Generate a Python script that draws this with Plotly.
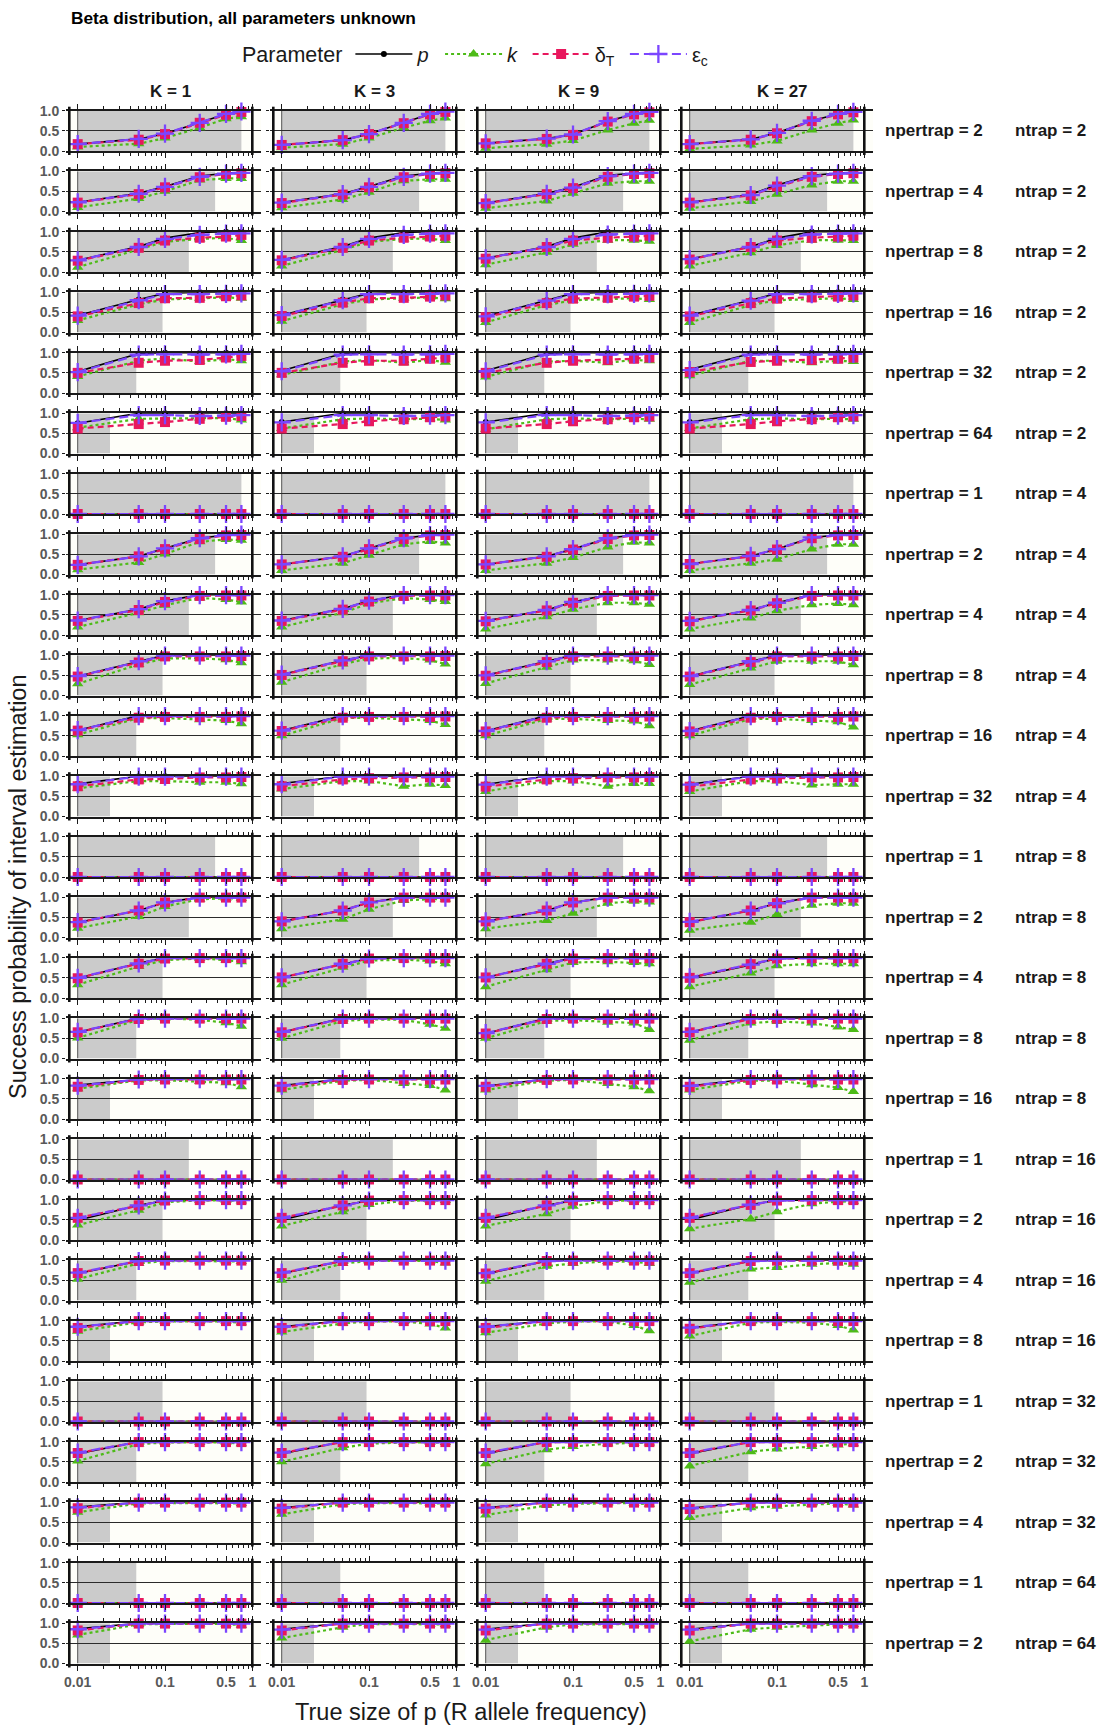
import plotly.graph_objects as go

# ---------------- data ----------------
X_P = [0.01, 0.05, 0.1, 0.25, 0.5, 0.75]
K_LABELS = ["K = 1", "K = 3", "K = 9", "K = 27"]
NPERTRAP = [2, 4, 8, 16, 32, 64, 1, 2, 4, 8, 16, 32, 1, 2, 4, 8, 16, 1, 2, 4, 8, 1, 2, 4, 1, 2]
NTRAP = [2, 2, 2, 2, 2, 2, 4, 4, 4, 4, 4, 4, 8, 8, 8, 8, 8, 16, 16, 16, 16, 32, 32, 32, 64, 64]
SHADE_END = [0.75, 0.375, 0.1875, 0.09375, 0.046875, 0.0234375,
             0.75, 0.375, 0.1875, 0.09375, 0.046875, 0.0234375,
             0.375, 0.1875, 0.09375, 0.046875, 0.0234375,
             0.1875, 0.09375, 0.046875, 0.0234375,
             0.09375, 0.046875, 0.0234375,
             0.046875, 0.0234375]
X_TICKS = [0.01, 0.1, 0.5, 1]
X_TICKTEXT = ["0.01", "0.1", "0.5", "1"]
X_MINOR = [0.02, 0.03, 0.04, 0.05, 0.06, 0.07, 0.08, 0.09,
           0.2, 0.3, 0.4, 0.6, 0.7, 0.8, 0.9]
Y_TICKS = [0, 0.5, 1]
Y_TICKTEXT = ["0.0", "0.5", "1.0"]

ZROW = [[0, 0, 0, 0, 0, 0], [0, 0, 0, 0, 0, 0], [0, 0, 0, 0, 0, 0], [0, 0, 0, 0, 0, 0]]

# values[row][col] = 6 values along X_P
P_VALS = [
    [[.17, .30, .43, .70, .92, .98], [.15, .27, .42, .70, .92, .98], [.19, .31, .41, .74, .92, .97], [.17, .29, .45, .75, .92, .97]],
    [[.23, .45, .62, .88, .95, .97], [.22, .44, .62, .88, .95, .97], [.21, .45, .60, .90, .95, .97], [.23, .42, .66, .90, .95, .97]],
    [[.29, .63, .84, .98, 1, 1], [.30, .63, .84, .98, 1, 1], [.34, .63, .84, 1, 1, 1], [.32, .63, .84, 1, 1, 1]],
    [[.42, .82, .97, 1, 1, 1], [.43, .82, .97, 1, 1, 1], [.40, .80, .97, 1, 1, 1], [.42, .80, .97, 1, 1, 1]],
    [[.53, .98, 1, 1, 1, 1], [.55, .98, 1, 1, 1, 1], [.55, .98, 1, 1, 1, 1], [.58, .98, 1, 1, 1, 1]],
    [[.75, 1, 1, 1, 1, 1], [.78, 1, 1, 1, 1, 1], [.78, 1, 1, 1, 1, 1], [.78, 1, 1, 1, 1, 1]],
    ZROW,
    [[.24, .45, .65, .90, .98, .99], [.25, .45, .65, .90, .98, .99], [.25, .45, .63, .90, .98, .99], [.26, .46, .63, .92, .98, .99]],
    [[.36, .64, .84, 1, 1, 1], [.36, .65, .85, 1, 1, 1], [.35, .62, .82, 1, 1, 1], [.35, .62, .80, 1, 1, 1]],
    [[.48, .85, 1, 1, 1, 1], [.52, .87, 1, 1, 1, 1], [.50, .85, 1, 1, 1, 1], [.48, .85, 1, 1, 1, 1]],
    [[.64, 1, 1, 1, 1, 1], [.63, 1, 1, 1, 1, 1], [.62, 1, 1, 1, 1, 1], [.62, 1, 1, 1, 1, 1]],
    [[.81, 1, 1, 1, 1, 1], [.82, 1, 1, 1, 1, 1], [.80, 1, 1, 1, 1, 1], [.80, 1, 1, 1, 1, 1]],
    ZROW,
    [[.37, .67, .87, 1, 1, 1], [.40, .67, .87, 1, 1, 1], [.40, .67, .87, 1, 1, 1], [.38, .67, .85, 1, 1, 1]],
    [[.49, .86, 1, 1, 1, 1], [.51, .85, .98, 1, 1, 1], [.51, .85, 1, 1, 1, 1], [.50, .82, .98, 1, 1, 1]],
    [[.65, 1, 1, 1, 1, 1], [.65, 1, 1, 1, 1, 1], [.62, 1, 1, 1, 1, 1], [.65, 1, 1, 1, 1, 1]],
    [[.84, .98, 1, 1, 1, 1], [.83, .99, 1, 1, 1, 1], [.82, .99, 1, 1, 1, 1], [.82, 1, 1, 1, 1, 1]],
    ZROW,
    [[.49, .86, .98, 1, 1, 1], [.50, .86, .98, 1, 1, 1], [.50, .86, .98, 1, 1, 1], [.50, .88, .98, 1, 1, 1]],
    [[.67, .98, 1, 1, 1, 1], [.67, .98, 1, 1, 1, 1], [.66, .98, 1, 1, 1, 1], [.67, .98, 1, 1, 1, 1]],
    [[.85, 1, 1, 1, 1, 1], [.85, 1, 1, 1, 1, 1], [.85, 1, 1, 1, 1, 1], [.82, 1, 1, 1, 1, 1]],
    ZROW,
    [[.70, 1, 1, 1, 1, 1], [.70, 1, 1, 1, 1, 1], [.70, 1, 1, 1, 1, 1], [.70, 1, 1, 1, 1, 1]],
    [[.88, 1, 1, 1, 1, 1], [.86, 1, 1, 1, 1, 1], [.86, 1, 1, 1, 1, 1], [.85, 1, 1, 1, 1, 1]],
    ZROW,
    [[.86, 1, 1, 1, 1, 1], [.85, 1, 1, 1, 1, 1], [.85, 1, 1, 1, 1, 1], [.85, 1, 1, 1, 1, 1]],
]

K_VALS = [
    [[.10, .18, .32, .58, .80, .85], [.08, .17, .32, .58, .75, .82], [.07, .17, .26, .52, .69, .76], [.05, .15, .25, .52, .69, .77]],
    [[.10, .32, .50, .78, .82, .82], [.09, .30, .48, .76, .80, .80], [.08, .26, .45, .70, .75, .75], [.08, .25, .43, .66, .75, .75]],
    [[.12, .57, .75, .82, .85, .78], [.15, .55, .75, .82, .83, .78], [.18, .49, .69, .79, .79, .76], [.15, .48, .66, .79, .79, .78]],
    [[.30, .70, .82, .85, .87, .85], [.28, .70, .82, .85, .87, .84], [.25, .68, .80, .83, .85, .82], [.25, .68, .80, .83, .85, .82]],
    [[.41, .80, .86, .78, .84, .80], [.45, .78, .82, .75, .82, .76], [.40, .78, .80, .75, .82, .80], [.43, .80, .80, .75, .80, .78]],
    [[.64, .86, .87, .88, .88, .83], [.62, .85, .87, .85, .86, .83], [.60, .85, .87, .85, .86, .85], [.62, .85, .87, .85, .86, .85]],
    ZROW,
    [[.12, .30, .51, .81, .87, .85], [.10, .28, .48, .75, .82, .78], [.10, .28, .42, .68, .80, .78], [.10, .28, .38, .63, .75, .75]],
    [[.20, .55, .74, .92, .88, .82], [.20, .55, .78, .92, .88, .83], [.15, .45, .64, .80, .80, .76], [.15, .42, .60, .75, .78, .75]],
    [[.29, .77, .92, .92, .89, .81], [.33, .78, .92, .93, .88, .78], [.30, .70, .88, .88, .86, .77], [.27, .68, .85, .85, .85, .76]],
    [[.53, .94, .94, .90, .88, .80], [.50, .94, .95, .92, .88, .78], [.50, .92, .92, .88, .87, .75], [.50, .92, .92, .88, .85, .72]],
    [[.70, .88, .88, .85, .85, .81], [.68, .88, .88, .75, .80, .77], [.62, .88, .88, .75, .82, .82], [.62, .88, .88, .78, .80, .80]],
    ZROW,
    [[.23, .52, .77, .95, .97, .97], [.22, .45, .70, .92, .95, .95], [.22, .42, .60, .85, .90, .88], [.18, .38, .57, .80, .85, .85]],
    [[.33, .78, .94, .98, .94, .90], [.33, .76, .93, .95, .92, .85], [.28, .70, .88, .90, .88, .85], [.28, .62, .80, .85, .85, .85]],
    [[.51, .96, 1.0, .96, .89, .80], [.50, .93, .97, .96, .85, .75], [.50, .93, .95, .90, .88, .72], [.45, .88, .92, .88, .78, .72]],
    [[.75, .96, .96, .93, .90, .80], [.72, .95, .97, .88, .83, .72], [.72, .95, .97, .88, .80, .70], [.72, .95, .95, .85, .78, .68]],
    ZROW,
    [[.37, .74, .94, .98, .98, .97], [.35, .70, .88, .97, .98, .98], [.35, .65, .84, .97, .98, .98], [.28, .52, .70, .90, .95, .96]],
    [[.53, .92, .98, .98, .98, .97], [.50, .92, .98, .98, .98, .93], [.48, .85, .92, .97, .96, .92], [.45, .78, .82, .90, .93, .90]],
    [[.74, .96, .98, .98, .98, .95], [.72, .93, .98, .98, .92, .82], [.70, .93, .98, .98, .88, .75], [.62, .95, .97, .95, .88, .77]],
    ZROW,
    [[.52, .94, .98, .98, .98, .95], [.50, .85, .95, .98, .98, .98], [.45, .80, .88, .95, .97, .97], [.40, .75, .82, .88, .92, .95]],
    [[.75, .97, .98, .98, .98, .97], [.70, .95, .98, .98, .98, .97], [.68, .92, .96, .98, .98, .95], [.62, .86, .90, .95, .97, .93]],
    ZROW,
    [[.71, .97, .98, .98, .98, .95], [.63, .90, .98, .98, .98, .97], [.58, .90, .97, .98, .98, .98], [.55, .85, .90, .95, .97, .97]],
]

DT_VALS = [
    [[.17, .28, .42, .70, .90, .97], [.15, .27, .42, .69, .91, .97], [.19, .30, .40, .73, .91, .96], [.17, .28, .44, .74, .91, .96]],
    [[.22, .43, .60, .85, .93, .95], [.21, .42, .60, .85, .93, .95], [.20, .43, .58, .86, .93, .95], [.22, .40, .62, .86, .93, .95]],
    [[.28, .60, .78, .85, .88, .92], [.29, .60, .78, .85, .88, .90], [.33, .62, .78, .85, .88, .90], [.31, .62, .78, .85, .88, .90]],
    [[.40, .73, .85, .86, .90, .92], [.41, .74, .85, .86, .89, .92], [.38, .73, .84, .86, .89, .91], [.40, .73, .84, .87, .89, .92]],
    [[.50, .75, .80, .82, .88, .92], [.50, .75, .80, .80, .85, .88], [.50, .75, .80, .82, .85, .88], [.52, .77, .80, .82, .85, .88]],
    [[.62, .73, .78, .86, .91, .93], [.62, .73, .80, .85, .90, .92], [.62, .73, .80, .85, .90, .92], [.62, .73, .80, .85, .90, .92]],
    ZROW,
    [[.24, .45, .63, .88, .97, .98], [.25, .44, .63, .88, .97, .98], [.25, .44, .62, .88, .97, .98], [.26, .45, .62, .90, .97, .98]],
    [[.35, .62, .82, .97, .98, .98], [.35, .63, .83, .97, .98, .98], [.34, .61, .80, .97, .98, .98], [.34, .61, .79, .97, .98, .98]],
    [[.47, .82, .97, .97, .97, .98], [.51, .85, .97, .97, .97, .98], [.49, .83, .97, .97, .97, .98], [.47, .83, .97, .97, .97, .98]],
    [[.63, .95, .97, .97, .97, .98], [.62, .95, .97, .97, .97, .98], [.61, .95, .97, .97, .97, .98], [.61, .95, .97, .97, .97, .98]],
    [[.75, .92, .93, .97, .97, .98], [.75, .92, .95, .97, .97, .98], [.74, .92, .95, .97, .97, .98], [.74, .92, .95, .97, .97, .98]],
    ZROW,
    [[.37, .67, .87, .99, .99, .99], [.40, .67, .87, .99, .99, .99], [.40, .67, .87, .99, .99, .99], [.38, .67, .85, .99, .99, .99]],
    [[.49, .85, .98, .99, .99, .99], [.51, .85, .98, .99, .99, .99], [.51, .85, .98, .99, .99, .99], [.50, .84, .98, .99, .99, .99]],
    [[.65, .98, .99, .99, .99, .99], [.65, .98, .99, .99, .99, .99], [.62, .98, .99, .99, .99, .99], [.65, .98, .99, .99, .99, .99]],
    [[.80, .97, .98, .98, .98, .98], [.80, .97, .98, .98, .98, .98], [.80, .97, .98, .98, .98, .98], [.80, .97, .98, .98, .98, .98]],
    ZROW,
    [[.55, .86, .98, .99, .99, .99], [.55, .86, .98, .99, .99, .99], [.55, .86, .98, .99, .99, .99], [.55, .87, .98, .99, .99, .99]],
    [[.68, .98, .99, .99, .99, .99], [.68, .98, .99, .99, .99, .99], [.67, .98, .99, .99, .99, .99], [.68, .98, .99, .99, .99, .99]],
    [[.82, .99, .99, .99, .99, .99], [.82, .99, .99, .99, .99, .99], [.82, .99, .99, .99, .99, .99], [.80, .99, .99, .99, .99, .99]],
    ZROW,
    [[.72, .99, .99, .99, .99, .99], [.72, .99, .99, .99, .99, .99], [.72, .99, .99, .99, .99, .99], [.72, .99, .99, .99, .99, .99]],
    [[.85, .99, .99, .99, .99, .99], [.84, .99, .99, .99, .99, .99], [.84, .99, .99, .99, .99, .99], [.83, .99, .99, .99, .99, .99]],
    ZROW,
    [[.82, .99, .99, .99, .99, .99], [.82, .99, .99, .99, .99, .99], [.82, .99, .99, .99, .99, .99], [.82, .99, .99, .99, .99, .99]],
]

EPS_VALS = [
    [[.17, .30, .43, .70, .92, .98], [.15, .27, .42, .70, .92, .98], [.19, .31, .41, .74, .92, .97], [.17, .29, .45, .75, .92, .97]],
    [[.23, .44, .61, .86, .94, .96], [.22, .43, .61, .86, .94, .96], [.21, .44, .59, .88, .94, .96], [.23, .41, .64, .88, .94, .96]],
    [[.29, .62, .82, .92, .95, .96], [.30, .62, .82, .92, .95, .96], [.34, .62, .82, .93, .95, .96], [.32, .62, .82, .93, .95, .96]],
    [[.42, .80, .95, .95, .96, .97], [.43, .80, .95, .95, .96, .97], [.40, .79, .95, .95, .96, .97], [.42, .79, .95, .95, .96, .97]],
    [[.52, .95, .96, .95, .96, .97], [.54, .95, .96, .95, .96, .97], [.54, .95, .96, .95, .96, .97], [.57, .95, .96, .95, .96, .97]],
    [[.76, .95, .95, .93, .94, .95], [.77, .95, .95, .93, .94, .95], [.77, .95, .95, .93, .94, .95], [.77, .95, .95, .93, .94, .95]],
    ZROW,
    [[.24, .45, .65, .90, .98, .99], [.25, .45, .65, .90, .98, .99], [.25, .45, .63, .90, .98, .99], [.26, .46, .63, .92, .98, .99]],
    [[.36, .64, .84, .99, .99, .99], [.36, .65, .85, .99, .99, .99], [.35, .62, .82, .99, .99, .99], [.35, .62, .80, .99, .99, .99]],
    [[.48, .85, .99, .99, .99, .99], [.52, .87, .99, .99, .99, .99], [.50, .85, .99, .99, .99, .99], [.48, .85, .99, .99, .99, .99]],
    [[.64, .99, .99, .99, .99, .99], [.63, .99, .99, .99, .99, .99], [.62, .99, .99, .99, .99, .99], [.62, .99, .99, .99, .99, .99]],
    [[.80, .99, .99, .99, .99, .99], [.80, .99, .99, .99, .99, .99], [.79, .99, .99, .99, .99, .99], [.79, .99, .99, .99, .99, .99]],
    ZROW,
    [[.38, .67, .87, .99, .99, .99], [.40, .67, .87, .99, .99, .99], [.40, .67, .87, .99, .99, .99], [.39, .67, .85, .99, .99, .99]],
    [[.50, .86, .99, .99, .99, .99], [.51, .85, .98, .99, .99, .99], [.51, .85, .99, .99, .99, .99], [.51, .83, .98, .99, .99, .99]],
    [[.66, .99, .99, .99, .99, .99], [.66, .99, .99, .99, .99, .99], [.63, .99, .99, .99, .99, .99], [.66, .99, .99, .99, .99, .99]],
    [[.83, .98, .99, .99, .99, .99], [.83, .99, .99, .99, .99, .99], [.82, .99, .99, .99, .99, .99], [.82, .99, .99, .99, .99, .99]],
    ZROW,
    [[.55, .86, .98, .99, .99, .99], [.55, .86, .98, .99, .99, .99], [.55, .86, .98, .99, .99, .99], [.55, .88, .98, .99, .99, .99]],
    [[.69, .98, .99, .99, .99, .99], [.69, .98, .99, .99, .99, .99], [.68, .98, .99, .99, .99, .99], [.69, .98, .99, .99, .99, .99]],
    [[.85, .99, .99, .99, .99, .99], [.85, .99, .99, .99, .99, .99], [.85, .99, .99, .99, .99, .99], [.83, .99, .99, .99, .99, .99]],
    ZROW,
    [[.73, .99, .99, .99, .99, .99], [.73, .99, .99, .99, .99, .99], [.73, .99, .99, .99, .99, .99], [.73, .99, .99, .99, .99, .99]],
    [[.87, .99, .99, .99, .99, .99], [.86, .99, .99, .99, .99, .99], [.86, .99, .99, .99, .99, .99], [.85, .99, .99, .99, .99, .99]],
    ZROW,
    [[.85, .99, .99, .99, .99, .99], [.84, .99, .99, .99, .99, .99], [.84, .99, .99, .99, .99, .99], [.84, .99, .99, .99, .99, .99]],
]

NB = "\u00a0"
SERIES = [
    ("<i>p</i>" + NB, P_VALS),
    ("<i>k</i>" + NB, K_VALS),
    ("δ<sub>T</sub>" + NB, DT_VALS),
    ("ε<sub>c</sub>", EPS_VALS),
]

# ---------------- styling ----------------
W, H = 1100, 1725
FONT = "Liberation Sans, Arial, Helvetica, sans-serif"
BLACK = "#000000"
GREEN = "#4DBB17"
RED = "#E8175D"
PURPLE = "#7B45FF"
GRAY_SHADE = "#CBCBCB"
PANEL_BG = "#FEFEF9"
TICK_GRAY = "#595959"

STYLES = [
    dict(line=dict(color=BLACK, width=1.6, dash="solid"),
         marker=dict(symbol="circle", size=6, color=BLACK)),
    dict(line=dict(color=GREEN, width=2.2, dash="3px,3px"),
         marker=dict(symbol="triangle-up", size=10, color=GREEN)),
    dict(line=dict(color=RED, width=2.2, dash="6px,4px"),
         marker=dict(symbol="square", size=10, color=RED)),
    dict(line=dict(color=PURPLE, width=2.2, dash="9px,5px"),
         marker=dict(symbol="cross-thin", size=13, color=PURPLE,
                     line=dict(color=PURPLE, width=2.3))),
]

# geometry (pixels)
X001 = 77.7         # pixel of x=0.01 in first column
DEC = 87.3          # pixels per decade
COL_STEP = 204.0
PL_OFF = -11.7      # plot-area left relative to x=0.01
PR_OFF = 183.3      # plot-area right relative to x=0.01
ROW_TOP0 = 110.7
ROW_STEP = 60.5
PANEL_H = 40.3

NROWS, NCOLS = 26, 4
XR = [-2 + PL_OFF / DEC, -2 + PR_OFF / DEC]


def fx(px):
    return px / W


def fy(py):
    return 1 - py / H


fig = go.Figure()
layout = {}
shapes = []
annotations = []

for r in range(NROWS):
    top = ROW_TOP0 + r * ROW_STEP
    bot = top + PANEL_H
    for c in range(NCOLS):
        n = r * NCOLS + c + 1
        sx = "" if n == 1 else str(n)
        xname, yname = "x" + sx, "y" + sx
        x0px = X001 + c * COL_STEP
        last = (r == NROWS - 1)
        layout["xaxis" + sx] = dict(
            type="log", range=XR, domain=[fx(x0px + PL_OFF), fx(x0px + PR_OFF)],
            anchor=yname, showline=True, linecolor="#1a1a1a", linewidth=2,
            mirror="allticks", ticks="outside", ticklen=5, tickwidth=1.2,
            tickcolor="#1a1a1a", tickvals=X_TICKS, ticktext=X_TICKTEXT,
            showticklabels=last, automargin=False,
            tickfont=dict(family=FONT, size=14, color=TICK_GRAY, weight="bold"),
            minor=dict(tickmode="array", tickvals=X_MINOR, ticks="outside", ticklen=3,
                       tickwidth=1, tickcolor="#1a1a1a", showgrid=False),
            showgrid=False, zeroline=False, fixedrange=True,
        )
        layout["yaxis" + sx] = dict(
            range=[0, 1], domain=[fy(bot), fy(top)], anchor=xname,
            tickvals=Y_TICKS, ticktext=Y_TICKTEXT, showticklabels=(c == 0),
            ticks="outside", ticklen=3, tickwidth=1.2, tickcolor="#1a1a1a",
            showgrid=True, gridcolor="#2b2b2b", gridwidth=1.3, automargin=False,
            zeroline=False, showline=False, fixedrange=True,
            tickfont=dict(family=FONT, size=14, color=TICK_GRAY, weight="bold"),
        )
        # shaded region
        shapes.append(dict(type="rect", xref=xname, yref=yname, x0=0.01,
                           x1=SHADE_END[r], y0=0, y1=1, fillcolor=GRAY_SHADE,
                           line=dict(width=0), layer="below"))
        shapes.append(dict(type="line", xref=xname, yref=yname, x0=0.01, x1=0.01,
                           y0=0, y1=1, line=dict(color="#555555", width=1),
                           layer="below"))
        # frame verticals (left axis line, right at x = 1)
        for vx, wd in ((x0px - 8.4, 2.6), (x0px + 2 * DEC, 2.6)):
            shapes.append(dict(type="line", xref="paper", yref="paper",
                               x0=fx(vx), x1=fx(vx), y0=fy(top - 4), y1=fy(bot + 4),
                               line=dict(color="#111111", width=wd)))
        for s, (name, vals) in enumerate(SERIES):
            st = STYLES[s]
            fig.add_trace(go.Scatter(
                x=X_P, y=vals[r][c], xaxis=xname, yaxis=yname,
                mode="lines+markers", name=name, legendgroup=name,
                showlegend=(n == 1), line=st["line"], marker=st["marker"],
                cliponaxis=False, hoverinfo="skip"))
    # row strip labels
    ymid = fy(top + PANEL_H / 2)
    annotations.append(dict(x=fx(883), y=ymid, xref="paper", yref="paper",
                            xanchor="left", yanchor="middle", showarrow=False,
                            text="<b>npertrap = %d</b>" % NPERTRAP[r],
                            font=dict(family=FONT, size=17, color="#1a1a1a")))
    annotations.append(dict(x=fx(1013), y=ymid, xref="paper", yref="paper",
                            xanchor="left", yanchor="middle", showarrow=False,
                            text="<b>ntrap = %d</b>" % NTRAP[r],
                            font=dict(family=FONT, size=17, color="#1a1a1a")))

for c in range(NCOLS):
    annotations.append(dict(x=fx(170.5 + c * COL_STEP), y=fy(91), xref="paper",
                            yref="paper", xanchor="center", yanchor="middle",
                            showarrow=False, text="<b>%s</b>" % K_LABELS[c],
                            font=dict(family=FONT, size=17, color="#1a1a1a")))

annotations.append(dict(x=fx(69), y=fy(18.5), xref="paper", yref="paper",
                        xanchor="left", yanchor="middle", showarrow=False,
                        text="<b>Beta distribution, all parameters unknown</b>",
                        font=dict(family=FONT, size=17.3, color="#000000")))
annotations.append(dict(x=fx(471), y=fy(1712), xref="paper", yref="paper",
                        xanchor="center", yanchor="middle", showarrow=False,
                        text="True size of p (R allele frequency)",
                        font=dict(family=FONT, size=23.5, color="#1a1a1a")))
annotations.append(dict(x=fx(18), y=fy(887), xref="paper", yref="paper",
                        xanchor="center", yanchor="middle", showarrow=False,
                        textangle=-90,
                        text="Success probability of interval estimation",
                        font=dict(family=FONT, size=23.5, color="#1a1a1a")))

fig.update_layout(
    width=W, height=H, margin=dict(l=0, r=0, t=0, b=0, pad=0, autoexpand=False),
    autosize=False,
    paper_bgcolor="white", plot_bgcolor=PANEL_BG,
    font=dict(family=FONT, color="#1a1a1a"),
    shapes=shapes, annotations=annotations,
    showlegend=True,
    legend=dict(orientation="h", x=fx(240), y=fy(54), xanchor="left",
                yanchor="middle", bgcolor="rgba(0,0,0,0)", borderwidth=0,
                title=dict(text="Parameter", side="left",
                           font=dict(family=FONT, size=21.5, color="#1a1a1a")),
                font=dict(family=FONT, size=20, color="#1a1a1a"),
                itemwidth=57, tracegroupgap=0),
    **layout,
)

fig.write_html("out.html")
